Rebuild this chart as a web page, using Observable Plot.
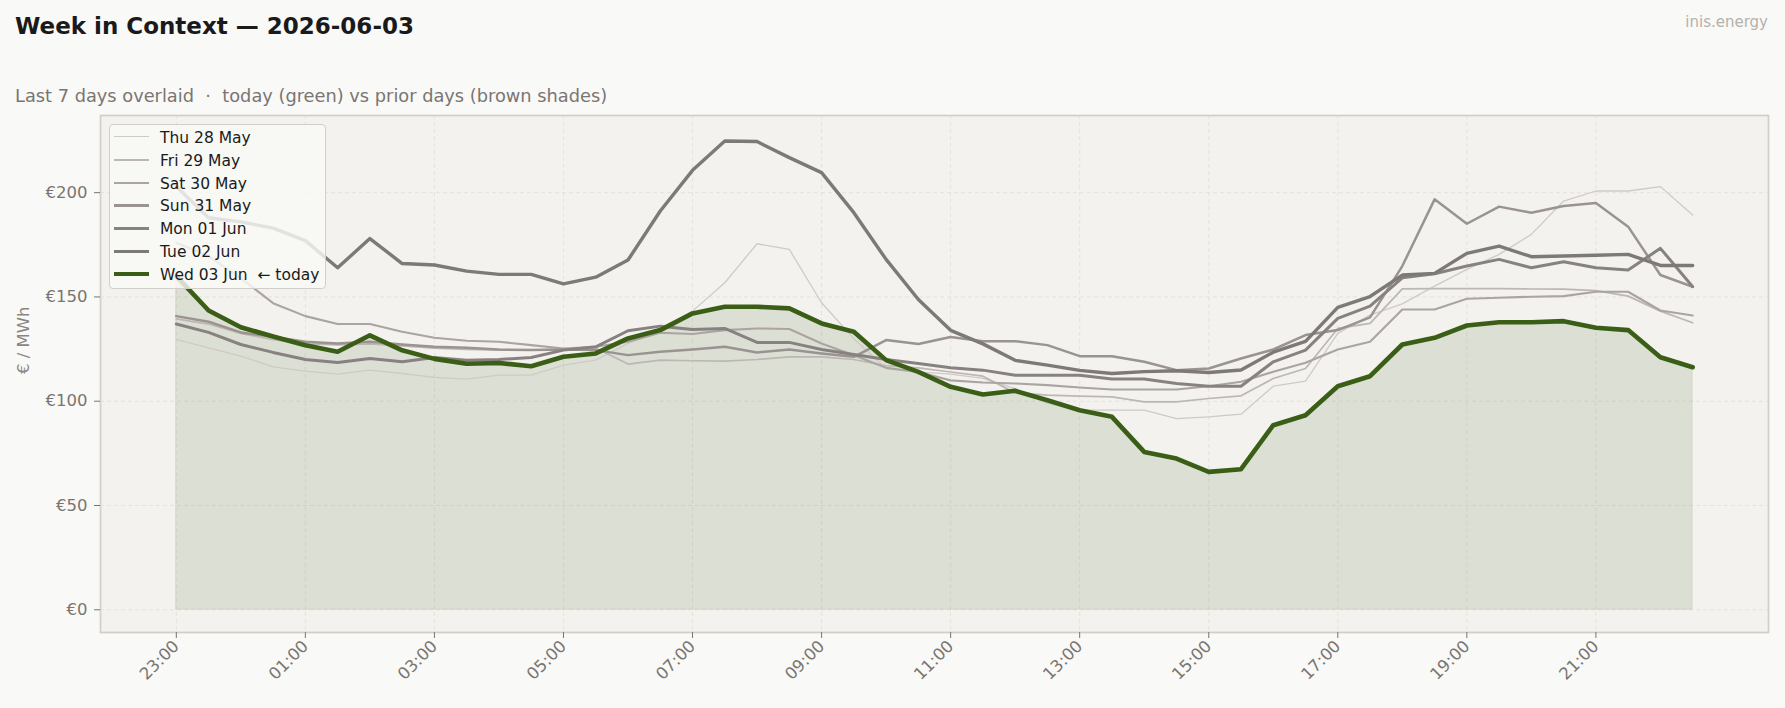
<!DOCTYPE html>
<html>
<head>
<meta charset="utf-8">
<script src="https://cdn.jsdelivr.net/npm/d3@7"></script>
<script src="https://cdn.jsdelivr.net/npm/@observablehq/plot@0.6"></script>
<style>
  html, body { margin: 0; padding: 0; background: #f9f9f7; }
  #wrap { position: relative; width: 1785px; height: 708px; overflow: hidden; font-family: "DejaVu Sans", sans-serif; }
  #chart { position: absolute; left: 0; top: 0; }
  .ovl { position: absolute; white-space: pre; }
  #title { left: 15px; top: 14.5px; font-size: 23px; line-height: 23px; font-weight: bold; color: #1a1a1a; }
  #subtitle { left: 15px; top: 86.5px; font-size: 17.8px; line-height: 17.8px; color: #7a7572; }
  #brand { right: 17px; top: 14.6px; font-size: 15px; line-height: 15px; color: #b5b1ad; }
  #legend { position: absolute; left: 109px; top: 124px; width: 217px; height: 165px; box-sizing: border-box;
            border: 1.5px solid #d3cfc8; border-radius: 4px; background: rgba(249,249,247,0.82); }
  .lg-line { position: absolute; left: 4px; width: 35px; }
  .lg-text { position: absolute; left: 50px; font-size: 15.5px; line-height: 15.5px; color: #1a1a1a; white-space: pre; }
</style>
</head>
<body>
<div id="wrap">
  <div id="chart"></div>
  <div id="title" class="ovl">Week in Context — 2026-06-03</div>
  <div id="subtitle" class="ovl">Last 7 days overlaid  ·  today (green) vs prior days (brown shades)</div>
  <div id="brand" class="ovl">inis.energy</div>
  <div id="legend"></div>
</div>
<script>
// ---- data ----
const timeLabels = ["23:00","23:30","00:00","00:30","01:00","01:30","02:00","02:30","03:00","03:30",
  "04:00","04:30","05:00","05:30","06:00","06:30","07:00","07:30","08:00","08:30",
  "09:00","09:30","10:00","10:30","11:00","11:30","12:00","12:30","13:00","13:30",
  "14:00","14:30","15:00","15:30","16:00","16:30","17:00","17:30","18:00","18:30",
  "19:00","19:30","20:00","20:30","21:00","21:30","22:00","22:30"];

const dayNames = ["Thu 28 May","Fri 29 May","Sat 30 May","Sun 31 May","Mon 01 Jun","Tue 02 Jun","Wed 03 Jun"];

const thu = [129.6,125.6,121.6,116.5,114.4,113,114.9,113.3,111.4,110.6,112.5,112.5,117.3,119.7,127.7,133.3,143.2,156.8,175.5,172.8,147.2,130,115.7,114.1,113,111,106,99,95.7,95.7,95.7,91.7,92.5,93.8,107.2,109.6,132.5,141.3,146.7,155.2,163.2,170.4,180,196,200.8,200.8,202.9,189.3];
const fri = [139.5,137,132.5,129.5,127.5,127,127.5,126.5,125.5,124.8,124.5,124.5,125,125.5,117.8,119.7,119.4,119.2,120,121.3,121.3,120,117,116,114,112,104,102.9,102.4,102.1,99.7,99.7,101.3,102.6,110.9,115.7,134.9,137.3,153.9,154,154,154,153.8,153.7,153,150.4,143.2,137.6];
const sat = [176,169.5,159,147,140.8,137,137,133.3,130.4,129,128.5,126.9,125.3,126.1,128.5,132.8,132.2,134.1,134.9,134.6,127.7,122,116,114,110,109,108.5,107.7,106.6,105.6,105.6,105.6,107.2,109.3,114.1,118.4,124.8,128.5,144,144,149.1,149.6,150.1,150.4,152.5,152.5,143.5,141.1];
const sun = [140.8,138.1,133,130.9,128.5,127.7,128.5,127.2,126.1,125.6,124.8,124.5,124.8,124.5,122.1,123.7,124.8,126.1,123.4,124.8,122.9,121.3,129.3,127.4,130.8,128.8,128.8,126.9,121.6,121.6,118.9,114.9,115.7,120.5,124.8,131.7,134.1,140.2,164.8,196.8,185.1,193.3,190.4,193.6,195,183.7,160.5,154.9];
const mon = [137,133,127.2,123.4,120,118.6,120.5,118.9,121,119.7,120,121,124.5,126.1,133.8,136,134.4,134.9,128.2,128.2,124.8,122.4,120,118.1,116,114.9,112.5,112.5,112.5,110.6,110.6,108.5,107.2,107.2,118.9,124.5,139.7,145.6,159.2,161.1,164.8,168,164,166.9,164,162.9,173.3,154.9];
const tue = [203,188,186,183,177,164,178,166,165.3,162.4,160.8,160.8,156.3,159.5,167.7,191.2,210.7,224.8,224.5,216.8,209.6,190.4,168,148.8,134,127.5,119.6,117.3,114.8,113.3,114.2,114.6,113.8,115,123.5,128.7,145,150.2,160.5,161.3,170.9,174.4,169.3,169.6,170,170.4,165.1,165.1];
const wed = [160,143.5,135.5,131,126.8,123.7,131.6,124.4,120.3,118,118.3,116.8,121.3,122.9,130.1,134.1,142.1,145.3,145.3,144.5,137.3,133.3,119.7,114.1,106.9,103.2,105,100.5,95.7,92.5,75.7,72.5,66.1,67.4,88.5,93.3,107.2,112,127.2,130.4,136.3,137.9,137.9,138.4,135.2,134.1,121.1,116.3];

const yTicks = [0, 50, 100, 150, 200];
const xTickEvery = 4;

// ---- styles (kept apart from data) ----
const priorValues = [thu, fri, sat, sun, mon, tue];
const priorColors = ["#cfcac6", "#bdb7b3", "#aba4a1", "#9a9391", "#878281", "#7d7978"];
const priorWidths = [1.3, 1.7, 2.1, 2.5, 3.0, 3.4];
const todayColor = "#3b5e17";
const todayWidth = 4.6;

// ---- build rows ----
const priorRows = priorValues.map((vals, k) => vals.map((v, i) => ({day: dayNames[k], i, v})));
const todayRows = wed.map((v, i) => ({day: dayNames[6], i, v}));
const xTicks = d3.range(0, timeLabels.length, xTickEvery);

const marks = [
  Plot.frame({fill: "#f3f2ee"}),
  Plot.gridY(yTicks, {stroke: "#dcd8d1", strokeOpacity: 0.6, strokeDasharray: "4,3", strokeWidth: 1}),
  Plot.gridX(xTicks, {stroke: "#dcd8d1", strokeOpacity: 0.6, strokeDasharray: "4,3", strokeWidth: 1}),
  Plot.areaY(todayRows, {x: "i", y: "v", fill: todayColor, fillOpacity: 0.12, stroke: todayColor, strokeOpacity: 0.1, strokeWidth: 1})
];
priorRows.forEach((rows, k) => {
  marks.push(Plot.lineY(rows, {x: "i", y: "v", stroke: priorColors[k], strokeWidth: priorWidths[k], strokeLinejoin: "round"}));
});
marks.push(Plot.lineY(todayRows, {x: "i", y: "v", stroke: todayColor, strokeWidth: todayWidth, strokeLinejoin: "round"}));
marks.push(Plot.frame({stroke: "#d3cfc8", strokeWidth: 1.7}));
marks.push(Plot.axisY(yTicks, {tickFormat: d => "€" + d, tickSize: 6, tickPadding: 7, fontSize: 16.5, color: "#7a7570", label: null}));
marks.push(Plot.axisX(xTicks, {tickFormat: i => timeLabels[i], tickSize: 6, tickPadding: 5, tickRotate: -45, fontSize: 16.5, color: "#7a7570", label: null}));
marks.push(Plot.text(["€ / MWh"], {frameAnchor: "left", dx: -77, rotate: -90, fontSize: 16.5, fill: "#8a8582"}));

const chart = Plot.plot({
  width: 1785,
  height: 708,
  marginLeft: 100,
  marginRight: 17,
  marginTop: 115,
  marginBottom: 76,
  style: {background: "#f9f9f7", fontFamily: "DejaVu Sans, sans-serif", overflow: "visible"},
  x: {type: "linear", domain: [-2.35, 49.35]},
  y: {type: "linear", domain: [-10.9, 237]},
  marks
});
document.getElementById("chart").appendChild(chart);

// ---- legend ----
const legend = document.getElementById("legend");
const legendColors = [...priorColors, todayColor];
const legendWidths = [...priorWidths, todayWidth];
dayNames.forEach((name, k) => {
  const base = 143.3 + k * 22.9 - 124;   // baseline inside legend box
  const line = document.createElement("div");
  line.className = "lg-line";
  line.style.top = (base - 6 - legendWidths[k] / 2 - 1.5) + "px";
  line.style.height = legendWidths[k] + "px";
  line.style.background = legendColors[k];
  legend.appendChild(line);
  const txt = document.createElement("div");
  txt.className = "lg-text";
  txt.style.top = (base - 13.1 - 0.5) + "px";
  txt.textContent = k === 6 ? name + "  ← today" : name;
  legend.appendChild(txt);
});
</script>
</body>
</html>
